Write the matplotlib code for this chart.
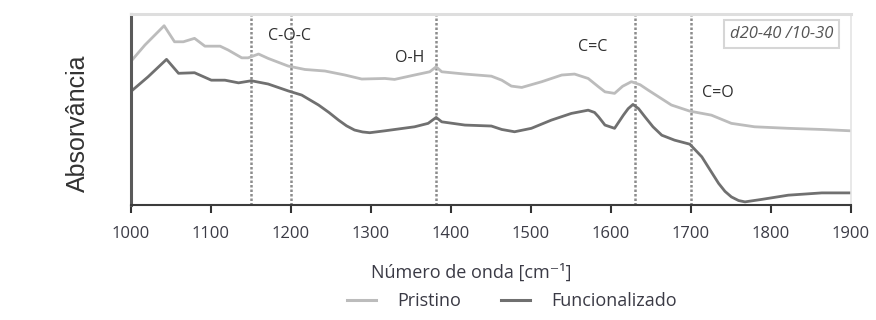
import numpy as np
import matplotlib
matplotlib.use('Agg')
import matplotlib.pyplot as plt
from matplotlib.lines import Line2D

from matplotlib import rcParams
rcParams['font.family'] = ['Open Sans', 'DejaVu Sans']

# spectra (arbitrary absorbance units)
wn_pristino = [1000, 1018, 1042, 1055, 1066, 1080, 1093, 1112, 1122, 1139,
               1147, 1160, 1172, 1197, 1218, 1243, 1268, 1289, 1318, 1330,
               1355, 1374, 1382, 1389, 1418, 1451, 1464, 1476, 1489, 1514,
               1539, 1555, 1572, 1585, 1593, 1605, 1615, 1626, 1637, 1647,
               1676, 1699, 1726, 1751, 1780, 1822, 1864, 1900]
abs_pristino = [0.750, 0.838, 0.939, 0.855, 0.855, 0.873, 0.832, 0.832, 0.812, 0.771,
                0.771, 0.791, 0.768, 0.728, 0.710, 0.702, 0.681, 0.660, 0.663, 0.658,
                0.681, 0.698, 0.724, 0.698, 0.686, 0.675, 0.654, 0.623, 0.616, 0.646,
                0.681, 0.686, 0.663, 0.619, 0.593, 0.585, 0.622, 0.646, 0.630, 0.602,
                0.524, 0.492, 0.471, 0.428, 0.410, 0.402, 0.396, 0.389]

wn_func = [1000, 1022, 1045, 1060, 1080, 1101, 1118, 1135, 1151, 1172,
           1197, 1214, 1235, 1248, 1260, 1270, 1280, 1290, 1299, 1318,
           1355, 1372, 1382, 1389, 1418, 1451, 1464, 1480, 1501, 1526,
           1551, 1572, 1580, 1585, 1593, 1605, 1616, 1622, 1628, 1635,
           1643, 1653, 1664, 1680, 1699, 1714, 1725, 1735, 1743, 1751,
           1760, 1768, 1789, 1822, 1864, 1900]
abs_func = [0.593, 0.672, 0.763, 0.690, 0.693, 0.654, 0.654, 0.640, 0.651, 0.634,
            0.598, 0.576, 0.524, 0.485, 0.445, 0.415, 0.393, 0.383, 0.379, 0.389,
            0.410, 0.428, 0.459, 0.436, 0.419, 0.414, 0.396, 0.384, 0.402, 0.445,
            0.480, 0.497, 0.485, 0.462, 0.419, 0.402, 0.471, 0.505, 0.527, 0.505,
            0.462, 0.410, 0.366, 0.340, 0.319, 0.253, 0.180, 0.114, 0.072, 0.043,
            0.024, 0.017, 0.030, 0.052, 0.064, 0.064]

band_lines = [1150, 1200, 1382, 1630, 1700]
band_labels = ['C-O-C', 'O-H', 'C=C', 'C=O']
band_label_x = [1199, 1349, 1578, 1734]
band_label_y = [0.885, 0.770, 0.827, 0.586]

x_ticks = [1000, 1100, 1200, 1300, 1400, 1500, 1600, 1700, 1800, 1900]

c_prist = '#bcbcbc'
c_func = '#707070'
txt_col = '#3a3a45'

fig = plt.figure(figsize=(8.76, 3.2), dpi=100)
ax = fig.add_axes([0.149, 0.359, 0.822, 0.597])

ax.plot(wn_pristino, abs_pristino, color=c_prist, lw=2.0, solid_joinstyle='round')
ax.plot(wn_func, abs_func, color=c_func, lw=2.0, solid_joinstyle='round')

for v in band_lines:
    ax.axvline(v, color='#8c8c8c', lw=1.8, linestyle=(0, (1, 0.8)), zorder=1)

for lab, lx, ly in zip(band_labels, band_label_x, band_label_y):
    ax.text(lx, ly, lab, ha='center', va='center', fontsize=11.5, color='#2e2e2e')

ax.text(0.904, 0.895, 'd20-40 /10-30', transform=ax.transAxes,
        ha='center', va='center', fontsize=12, style='italic', color='#555555',
        bbox=dict(boxstyle='square,pad=0.35', fc='white', ec='#d6d6d6', lw=1.5))

ax.set_xlim(1000, 1900)
ax.set_ylim(0, 1)
ax.set_xticks(x_ticks)
ax.set_yticks([])

ax.spines['left'].set_color('#5a5a5a')
ax.spines['left'].set_linewidth(2.2)
ax.spines['top'].set_color('#dedede')
ax.spines['top'].set_linewidth(2.2)
ax.spines['right'].set_color('#e4e4e4')
ax.spines['right'].set_linewidth(1.2)
ax.spines['bottom'].set_color('#3c3c3c')
ax.spines['bottom'].set_linewidth(1.5)

ax.tick_params(axis='x', direction='out', length=6, width=1.5, color='#333333',
               pad=9, labelsize=12, labelcolor=txt_col)

fig.text(77.5 / 876, 1 - 123.5 / 320, 'Absorvância', rotation=90,
         ha='center', va='center', fontsize=18, color='#333333',
         family=['Liberation Sans', 'DejaVu Sans'])

fig.text(471 / 876, 1 - 273 / 320, 'Número de onda [cm⁻¹]',
         ha='center', va='center', fontsize=13, color=txt_col)

handles = [Line2D([], [], color=c_prist, lw=2.2),
           Line2D([], [], color=c_func, lw=2.2)]
fig.legend(handles, ['Pristino', 'Funcionalizado'], ncol=2, frameon=False,
           loc='center', bbox_to_anchor=(512 / 876, 1 - 301 / 320),
           fontsize=13, handlelength=1.6, handletextpad=1.2, columnspacing=2.2,
           labelcolor=txt_col)

fig.savefig('out.png', dpi=100)
